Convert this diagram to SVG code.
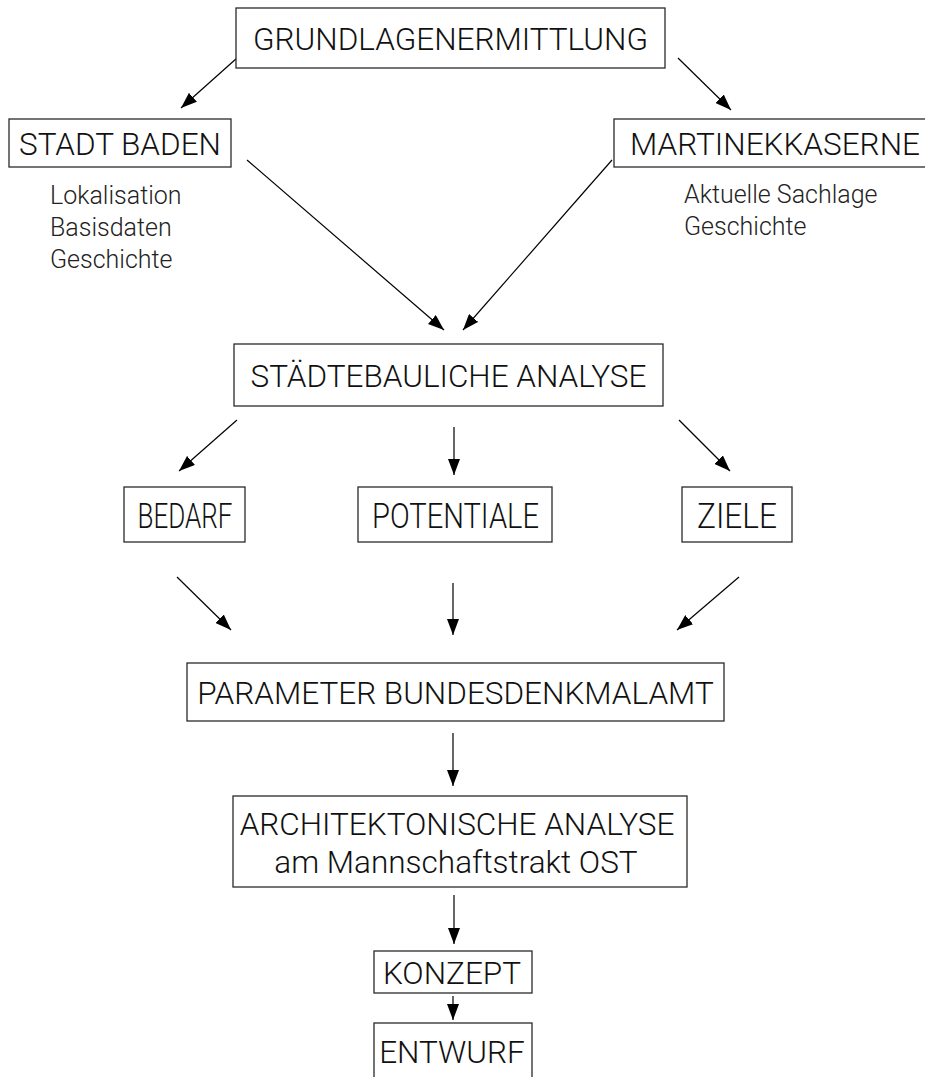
<svg xmlns="http://www.w3.org/2000/svg" width="925" height="1077" viewBox="0 0 925 1077">
<defs>
<marker id="ah" markerWidth="16" markerHeight="12" refX="16" refY="6" orient="auto" markerUnits="userSpaceOnUse" viewBox="0 0 16 12">
<path d="M0,0 L16,6 L0,12 z" fill="#000"/>
</marker>
<style>
.box{fill:#fff;stroke:#2a2a2a;stroke-width:1.3}
.t{font-family:Roboto,"Liberation Sans",sans-serif;font-weight:300;fill:#111;text-anchor:middle}
.big{font-size:31.5px}
.row{font-size:35px}
.sub{font-size:25px;text-anchor:start;fill:#222}
.c{stroke:#000;stroke-width:1.2;fill:none;marker-end:url(#ah)}
</style>
</defs>
<rect width="925" height="1077" fill="#fff"/>
<g id="connectors">
<line class="c" x1="237" y1="58" x2="181" y2="108"/>
<line class="c" x1="678" y1="58" x2="731" y2="110"/>
<line class="c" x1="247" y1="160" x2="444" y2="330"/>
<line class="c" x1="612" y1="160" x2="463" y2="330"/>
<line class="c" x1="237" y1="420" x2="179" y2="471"/>
<line class="c" x1="454" y1="427" x2="454" y2="475"/>
<line class="c" x1="679" y1="420" x2="730" y2="471"/>
<line class="c" x1="177" y1="577" x2="231" y2="630"/>
<line class="c" x1="453" y1="583" x2="453" y2="635"/>
<line class="c" x1="739" y1="577" x2="677" y2="630"/>
<line class="c" x1="453" y1="733" x2="453" y2="786"/>
<line class="c" x1="454" y1="895" x2="454" y2="944"/>
<line class="c" x1="453" y1="996" x2="453" y2="1020"/>
</g>
<g id="n-grundlagen">
<rect class="box" x="236" y="8" width="429" height="60"/>
<text class="t big" x="450.5" y="50">GRUNDLAGENERMITTLUNG</text>
</g>
<g id="n-stadt">
<rect class="box" x="9" y="119" width="222" height="48"/>
<text class="t big" x="120" y="155">STADT BADEN</text>
<text class="t sub" x="50" y="204">Lokalisation</text>
<text class="t sub" x="50" y="236">Basisdaten</text>
<text class="t sub" x="50" y="268">Geschichte</text>
</g>
<g id="n-martinek">
<rect class="box" x="614" y="119" width="320" height="48"/>
<text class="t big" x="775" y="155">MARTINEKKASERNE</text>
<text class="t sub" x="684" y="203">Aktuelle Sachlage</text>
<text class="t sub" x="684" y="235">Geschichte</text>
</g>
<g id="n-staedtebau">
<rect class="box" x="234" y="344" width="429" height="62"/>
<text class="t big" x="448.5" y="387">STÄDTEBAULICHE ANALYSE</text>
</g>
<g id="n-bedarf">
<rect class="box" x="124" y="487" width="121" height="55"/>
<text class="t row" x="185" y="528" textLength="95" lengthAdjust="spacingAndGlyphs">BEDARF</text>
</g>
<g id="n-potentiale">
<rect class="box" x="358" y="487" width="194" height="55"/>
<text class="t row" x="455.5" y="528" textLength="167" lengthAdjust="spacingAndGlyphs">POTENTIALE</text>
</g>
<g id="n-ziele">
<rect class="box" x="682" y="487" width="110" height="55"/>
<text class="t row" x="737" y="528" textLength="80" lengthAdjust="spacingAndGlyphs">ZIELE</text>
</g>
<g id="n-parameter">
<rect class="box" x="187" y="663" width="537" height="58"/>
<text class="t big" x="455.5" y="704">PARAMETER BUNDESDENKMALAMT</text>
</g>
<g id="n-archi">
<rect class="box" x="233" y="796" width="454" height="91"/>
<text class="t big" x="457" y="835">ARCHITEKTONISCHE ANALYSE</text>
<text class="t big" x="456" y="873">am Mannschaftstrakt OST</text>
</g>
<g id="n-konzept">
<rect class="box" x="374" y="951" width="158" height="42"/>
<text class="t big" x="452" y="984">KONZEPT</text>
</g>
<g id="n-entwurf">
<rect class="box" x="374" y="1023" width="158" height="70"/>
<text class="t big" x="452" y="1063">ENTWURF</text>
</g>
</svg>
